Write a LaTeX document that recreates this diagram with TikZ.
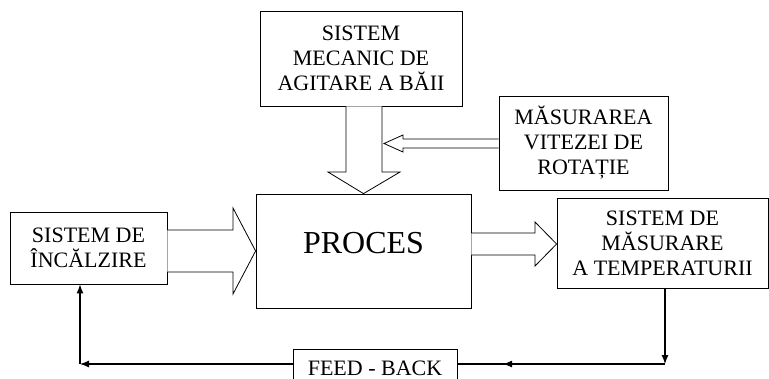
\documentclass[tikz,border=0pt]{standalone}
\usepackage{fontspec}
\setmainfont{Liberation Serif}
\usetikzlibrary{arrows.meta,decorations.markings}

\begin{document}
\begin{tikzpicture}[
        x=1pt, y=-1pt,
        block/.style={rectangle, draw, line width=0.8pt, align=center, inner sep=2pt, font=\fontsize{22}{25}\selectfont},
        fat/.style={draw, line width=0.8pt, fill=white, line join=miter},
        fback/.style={line width=1.1pt, -{Latex[length=9pt,width=7pt]}},
        midtip/.style={line width=1.1pt, decoration={markings, mark=at position 0.78 with {\arrow{Latex[length=9pt,width=7pt]}}}, postaction={decorate}}
    ]
    \useasboundingbox (0,0) rectangle (769,378);

    \node[block, minimum width=202pt, minimum height=95pt] (mech) at (361,58.5) {SISTEM\\MECANIC DE\\AGITARE A BĂII};
    \node[block, minimum width=169pt, minimum height=94pt] (rot) at (583.5,143) {MĂSURAREA\\VITEZEI DE\\ROTAȚIE};
    \node[block, minimum width=215pt, minimum height=114pt, font=\fontsize{32}{36}\selectfont, text height=21pt, text depth=17pt] (proc) at (363.5,251) {PROCES};
    \node[block, minimum width=157pt, minimum height=72pt] (heat) at (88.5,248) {SISTEM DE\\ÎNCĂLZIRE};
    \node[block, minimum width=211pt, minimum height=90pt] (meas) at (662.5,243) {SISTEM DE\\MĂSURARE\\A TEMPERATURII};
    \node[block, minimum width=164pt, minimum height=38pt] (fb) at (375,368) {FEED - BACK};

    % block arrows
    \draw[fat] (346,0 |- mech.south) -- (346,172) -- (328,172) -- (proc.north) -- (400,172) -- (382,172) -- (382,0 |- mech.south);
    \draw[fat] (rot.west |- 0,139) -- (403,139) -- (403,135) -- (384,143.5) -- (403,152) -- (403,148) -- (rot.west |- 0,148);
    \draw[fat] (heat.east |- 0,230) -- (233,230) -- (233,208) -- (proc.west) -- (233,294) -- (233,272) -- (heat.east |- 0,272);
    \draw[fat] (proc.east |- 0,233) -- (535,233) -- (535,222) -- (meas.west |- 0,244) -- (535,266) -- (535,255) -- (proc.east |- 0,255);

    % feed-back loop
    \coordinate (fr) at (665,364);
    \coordinate (fl) at (80,364);
    \draw[fback] (fr |- meas.south) -- (fr);
    \draw[midtip] (fr) -- (fb.east |- fr);
    \draw[fback] (fb.west |- fl) -- (fl);
    \draw[fback] (fl) -- (fl |- heat.south);

\end{tikzpicture}
\end{document}
